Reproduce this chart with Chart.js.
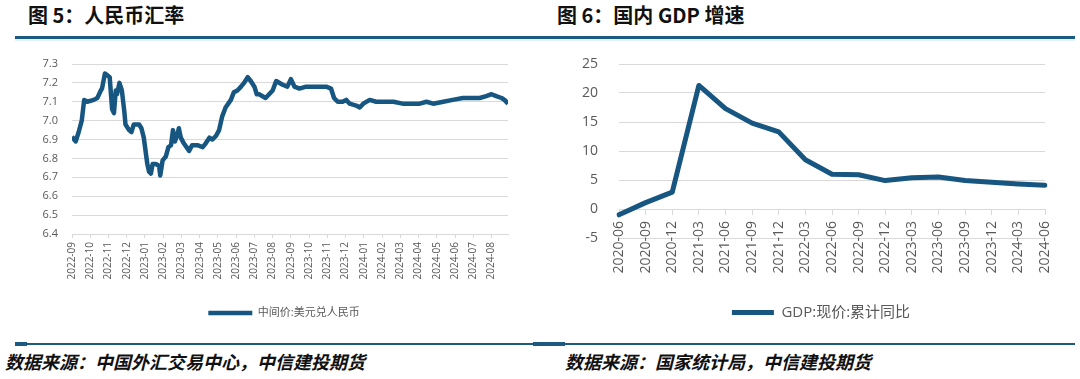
<!DOCTYPE html>
<html>
<head>
<meta charset="utf-8">
<script src="https://cdn.jsdelivr.net/npm/chart.js@4.4.1/dist/chart.umd.min.js"></script>
<style>
  html, body { margin: 0; padding: 0; background: #fff; }
  body { width: 1080px; height: 379px; position: relative; overflow: hidden; }
  .title { position: absolute; top: 2px; font: bold 20px "Noto Sans CJK SC", sans-serif; color: #111; line-height: 26px; white-space: nowrap; }
  .foot { position: absolute; top: 349px; font: italic bold 18px "Noto Sans CJK SC", sans-serif; color: #111; line-height: 24px; white-space: nowrap; }
  .rule { position: absolute; background: #1d5a82; }
  .wrap { position: absolute; top: 40px; width: 540px; height: 290px; }
  canvas { display: block; }
</style>
</head>
<body>
<div class="title" style="left:28px;">图 5：人民币汇率</div>
<div class="title" style="left:557px;">图 6：国内 GDP 增速</div>
<div class="rule" style="left:15px; top:36px; width:1060px; height:3px;"></div>
<div style="position:absolute; left:15px; top:39px; width:1060px; height:2px; background:#e3f4f9;"></div>

<div class="wrap" style="left:0px;"><canvas id="c1" width="540" height="290"></canvas></div>
<div class="wrap" style="left:540px;"><canvas id="c2" width="540" height="290"></canvas></div>

<div class="rule" style="left:15px; top:343px; width:1060px; height:2px;"></div>
<div class="rule" style="left:15px; top:342px; width:12px; height:4px;"></div>
<div class="rule" style="left:533px; top:342px; width:32px; height:4px;"></div>
<div class="foot" style="left:5px;">数据来源：中国外汇交易中心，中信建投期货</div>
<div class="foot" style="left:565px;">数据来源：国家统计局，中信建投期货</div>

<script>
// ---------- Data: USD/CNY central parity ----------
const fxDates = ['2022-09-01','2022-09-07','2022-09-12','2022-09-17','2022-09-21','2022-09-26','2022-10-07','2022-10-13','2022-10-19','2022-10-21','2022-10-26','2022-10-30','2022-11-03','2022-11-07','2022-11-10','2022-11-13','2022-11-15','2022-11-19','2022-11-23','2022-11-27','2022-11-29','2022-12-05','2022-12-09','2022-12-13','2022-12-22','2022-12-26','2022-12-30','2023-01-02','2023-01-05','2023-01-08','2023-01-11','2023-01-14','2023-01-20','2023-01-25','2023-01-27','2023-01-31','2023-02-05','2023-02-09','2023-02-13','2023-02-16','2023-02-19','2023-02-23','2023-02-25','2023-02-28','2023-03-05','2023-03-14','2023-03-19','2023-03-28','2023-04-06','2023-04-11','2023-04-17','2023-04-22','2023-04-28','2023-05-03','2023-05-08','2023-05-14','2023-05-23','2023-05-28','2023-06-03','2023-06-09','2023-06-14','2023-06-20','2023-06-25','2023-07-01','2023-07-05','2023-07-09','2023-07-20','2023-08-01','2023-08-07','2023-08-18','2023-08-26','2023-09-01','2023-09-07','2023-09-15','2023-09-26','2023-10-30','2023-11-07','2023-11-12','2023-11-18','2023-11-26','2023-12-02','2023-12-08','2023-12-19','2023-12-25','2023-12-31','2024-01-11','2024-01-22','2024-02-19','2024-03-05','2024-04-03','2024-04-14','2024-04-25','2024-05-12','2024-05-28','2024-06-14','2024-06-25','2024-07-12','2024-07-23','2024-08-01','2024-08-09','2024-08-18','2024-08-23','2024-08-29'];
const fxValues = [6.915,6.89,6.94,7.00,7.11,7.10,7.11,7.12,7.16,7.17,7.25,7.24,7.23,7.06,7.04,7.16,7.14,7.20,7.16,7.05,6.98,6.95,6.94,6.98,6.98,6.96,6.91,6.84,6.77,6.73,6.72,6.77,6.77,6.76,6.71,6.79,6.81,6.86,6.87,6.95,6.89,6.93,6.96,6.91,6.88,6.84,6.87,6.87,6.86,6.88,6.91,6.90,6.92,6.95,7.02,7.07,7.11,7.15,7.16,7.18,7.20,7.23,7.21,7.18,7.14,7.14,7.12,7.16,7.21,7.19,7.18,7.22,7.18,7.17,7.18,7.18,7.17,7.12,7.10,7.10,7.11,7.09,7.08,7.07,7.09,7.11,7.10,7.10,7.09,7.09,7.10,7.09,7.10,7.11,7.12,7.12,7.12,7.13,7.14,7.13,7.12,7.11,7.09];
const fxMonthLabels = ['2022-09','2022-10','2022-11','2022-12','2023-01','2023-02','2023-03','2023-04','2023-05','2023-06','2023-07','2023-08','2023-09','2023-10','2023-11','2023-12','2024-01','2024-02','2024-03','2024-04','2024-05','2024-06','2024-07','2024-08'];
const fxSeriesName = '中间价:美元兑人民币';
const fxYTicks = { min: 6.4, max: 7.3, step: 0.1 };

// ---------- Data: GDP cumulative YoY ----------
const gdpCategories = ['2020-06','2020-09','2020-12','2021-03','2021-06','2021-09','2021-12','2022-03','2022-06','2022-09','2022-12','2023-03','2023-06','2023-09','2023-12','2024-03','2024-06'];
const gdpValues = [-1.0,1.1,2.9,21.3,17.3,14.8,13.3,8.5,6.0,5.9,4.9,5.4,5.5,4.9,4.6,4.3,4.1];
const gdpSeriesName = 'GDP:现价:累计同比';
const gdpYTicks = { min: -5, max: 25, step: 5 };

// ---------- helpers ----------
const base = fxMonthLabels[0].split('-').map(Number);
function monthIndex(ds) {
  const [y, m, d] = ds.split('-').map(Number);
  const dim = new Date(y, m, 0).getDate();
  return (y - base[0]) * 12 + (m - base[1]) + (d - 1) / dim;
}
const fxPoints = fxDates.map((d, i) => ({ x: monthIndex(d), y: fxValues[i] }));

const LINE = '#175681';
const GRID = '#d9d9d9';
const TXT = '#595959';
Chart.defaults.font.family = '"Open Sans","Noto Sans CJK SC",sans-serif';
Chart.defaults.color = TXT;

// shift the legend horizontally without touching the plot area
const legendShift = {
  id: 'legendShift',
  afterLayout(chart, args, opts) {
    const l = chart.legend;
    if (l && opts && opts.dx) { l.left += opts.dx; l.right += opts.dx; }
  }
};

new Chart(document.getElementById('c1'), {
  type: 'line',
  data: { datasets: [{ label: fxSeriesName, data: fxPoints, borderColor: LINE, backgroundColor: LINE,
    borderWidth: 4.5, pointRadius: 0, tension: 0, borderJoinStyle: 'round', borderCapStyle: 'butt' }] },
  plugins: [legendShift],
  options: {
    responsive: false, animation: false, events: [],
    layout: { padding: { left: 0, right: 32, top: 24, bottom: 1.5 } },
    plugins: {
      tooltip: { enabled: false },
      legendShift: { dx: 30 },
      legend: { position: 'bottom', labels: { usePointStyle: true, pointStyle: 'line', pointStyleWidth: 44,
        boxHeight: 11, padding: 10, color: TXT, font: { size: 11 } } }
    },
    scales: {
      x: { type: 'linear', min: 0, max: fxPoints[fxPoints.length - 1].x,
        afterFit: s => { s.height = 63.5; },
        grid: { display: true, drawOnChartArea: false, drawTicks: true, tickLength: 4, color: GRID },
        border: { display: true, color: GRID },
        ticks: { stepSize: 1, autoSkip: false, includeBounds: false, maxTicksLimit: 100, minRotation: 90, maxRotation: 90,
          padding: 4, font: { size: 10 }, color: TXT,
          callback: v => (Number.isInteger(v) ? fxMonthLabels[v] : '') } },
      y: { min: fxYTicks.min, max: fxYTicks.max,
        afterFit: s => { s.width = 72; s.paddingTop = 0; s.paddingBottom = 0; },
        grid: { color: GRID, drawTicks: false },
        border: { display: false },
        ticks: { stepSize: fxYTicks.step, padding: 14, font: { size: 11 }, color: TXT, callback: v => Number(v).toFixed(1) } }
    }
  }
});

new Chart(document.getElementById('c2'), {
  type: 'line',
  data: { labels: gdpCategories, datasets: [{ label: gdpSeriesName, data: gdpValues, borderColor: LINE, backgroundColor: LINE,
    borderWidth: 5, pointRadius: 0, tension: 0, borderJoinStyle: 'round', borderCapStyle: 'round' }] },
  plugins: [legendShift],
  options: {
    responsive: false, animation: false, events: [],
    layout: { padding: { left: 0, right: 35, top: 24, bottom: 0 } },
    plugins: {
      tooltip: { enabled: false },
      legendShift: { dx: 28.5 },
      legend: { position: 'bottom', labels: { usePointStyle: true, pointStyle: 'line', pointStyleWidth: 42,
        boxHeight: 15, padding: 10, color: TXT, font: { size: 15 } } }
    },
    scales: {
      x: { type: 'category', position: { y: 0 }, offset: false,
        grid: { display: true, drawOnChartArea: false, drawTicks: true, tickLength: 5, color: GRID, offset: false },
        border: { display: true, color: GRID },
        ticks: { autoSkip: false, minRotation: 90, maxRotation: 90, padding: 7, font: { size: 14 }, color: TXT } },
      xspace: { type: 'linear', axis: 'x', position: 'bottom', display: true,
        afterFit: s => { s.height = 57; },
        grid: { display: false }, border: { display: false }, ticks: { display: false } },
      y: { min: gdpYTicks.min, max: gdpYTicks.max,
        afterFit: s => { s.width = 79; s.paddingTop = 0; s.paddingBottom = 0; },
        grid: { color: GRID, drawTicks: false },
        border: { display: false },
        ticks: { stepSize: gdpYTicks.step, padding: 21, font: { size: 14 }, color: TXT } }
    }
  }
});
</script>
</body>
</html>
